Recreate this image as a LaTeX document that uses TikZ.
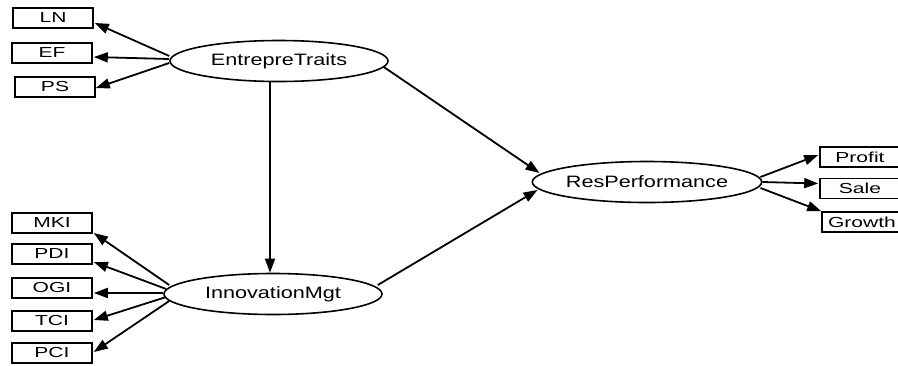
\documentclass[tikz,border=0pt]{standalone}
\usepackage{fontspec}
\newfontfamily\boxfont[FakeStretch=1.45]{Liberation Sans}
\newfontfamily\latentfont[FakeStretch=1.31]{Liberation Sans}
\usetikzlibrary{shapes.geometric,arrows.meta,calc}
\begin{document}
\begin{tikzpicture}[x=1pt,y=-1pt,
  indicator/.style={draw,line width=1.6pt,rectangle,minimum width=80pt,minimum height=20pt,
    inner sep=0pt,font=\boxfont\fontsize{14.5}{16}\selectfont},
  latent/.style={draw,line width=1.6pt,ellipse,minimum width=218pt,minimum height=41pt,
    inner sep=0pt,font=\latentfont\fontsize{16.5}{18}\selectfont},
  path/.style={line width=1.8pt,-{Triangle[length=14pt,width=10pt]}}]
\useasboundingbox (0,0) rectangle (898,365);
\fill[white] (0,0) rectangle (898,365);

% latent constructs
\node[latent] (ET) at (279,61) {EntrepreTraits};
\node[latent] (IM) at (273,294) {InnovationMgt};
\node[latent] (RP) at (647,182) {ResPerformance};

% indicators of EntrepreTraits
\node[indicator] (LN) at (53,18) {LN};
\node[indicator] (EF) at (52,53) {EF};
\node[indicator] (PS) at (55,87) {PS};

% indicators of InnovationMgt
\node[indicator] (MKI) at (52,223) {MKI};
\node[indicator] (PDI) at (52,254) {PDI};
\node[indicator] (OGI) at (52,288) {OGI};
\node[indicator] (TCI) at (52,321) {TCI};
\node[indicator] (PCI) at (52,353) {PCI};

% indicators of ResPerformance
\node[indicator] (Profit) at (860,157) {Profit};
\node[indicator] (Sale) at (860,188.5) {Sale};
\node[indicator] (Growth) at (862,222) {Growth};

% EntrepreTraits -> indicators
\draw[path] ($(ET.west)+(0,-5)$) -- ($(LN.east)+(1,5)$);
\draw[path] ($(ET.west)+(0,-2)$) -- ($(EF.east)+(1,4)$);
\draw[path] ($(ET.west)+(0,2)$) -- ($(PS.east)+(0,1)$);

% InnovationMgt -> indicators
\draw[path] ($(IM.west)+(6,-9)$) -- ($(MKI.east)+(1,10)$);
\draw[path] ($(IM.west)+(3,-5)$) -- ($(PDI.east)+(1,8)$);
\draw[path] ($(IM.west)+(0,-1)$) -- ($(OGI.east)+(1,5)$);
\draw[path] ($(IM.west)+(3,3)$) -- ($(TCI.east)+(1,-1)$);
\draw[path] ($(IM.west)+(6,7)$) -- ($(PCI.east)+(1,-1)$);

% ResPerformance -> indicators
\draw[path] ($(RP.east)+(-2,-5)$) -- ($(Profit.west)+(-1,-2)$);
\draw[path] (RP.east) -- ($(Sale.west)+(-1,-5)$);
\draw[path] ($(RP.east)+(-2,6)$) -- (Growth.north west);

% structural paths
\draw[path] ($(ET.south)+(-9,0)$) -- ($(IM.north)+(-3,0)$);
\draw[path] ($(ET.east)+(-5,6)$) -- ($(RP.west)+(8,-9)$);
\draw[path] ($(IM.east)+(-5,-9)$) -- ($(RP.west)+(6,8)$);
\end{tikzpicture}
\end{document}
